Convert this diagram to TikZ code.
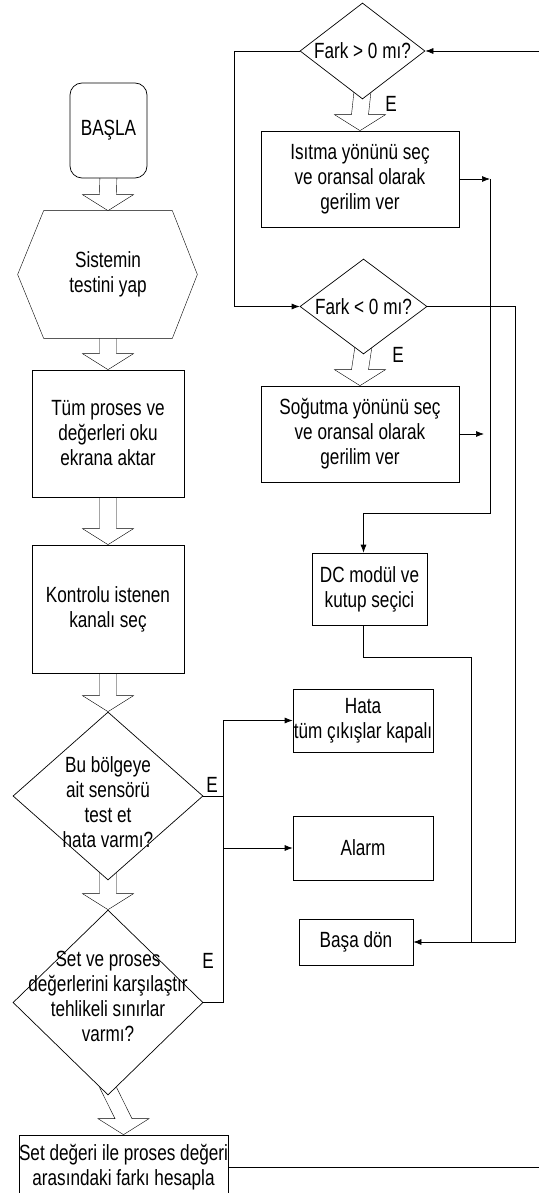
\documentclass[tikz,border=0pt]{standalone}
\usepackage{fontspec}
\setmainfont{Liberation Sans}[FakeStretch=0.78]
\usetikzlibrary{shapes.geometric,arrows.meta,calc,backgrounds}

\tikzset{
  box/.style={draw, fill=white, inner sep=0pt, align=center},
  decision/.style={draw, diamond, fill=white, inner sep=0pt},
  flow/.style={-{Latex[length=8pt,width=6pt]}},
}
% hollow block arrow from one node to the next
\newcommand{\hollowarrow}[2]{%
  \draw[fill=white] ($(#1)+(-8.5,-8)$) -- ($(#2)+(-8.5,-16)$) -- ($(#2)+(-25.5,-16)$) -- (#2)
    -- ($(#2)+(25.5,-16)$) -- ($(#2)+(8.5,-16)$) -- ($(#1)+(8.5,-8)$);}

\begin{document}
\begin{tikzpicture}[x=1pt, y=-1pt, line width=0.7pt, font=\fontsize{22}{25}\selectfont]
\useasboundingbox (0,0) rectangle (539,1193);

% left column
\node[box, rounded corners=12pt, minimum width=77pt, minimum height=95pt] (basla) at (108.5,130.5) {BAŞLA};
\node[align=center, minimum width=128pt, minimum height=127pt, inner sep=0pt] (test) at (108,274.5) {Sistemin\\testini yap};
\node[box, minimum width=152pt, minimum height=127pt] (oku) at (108,433.5) {Tüm proses ve\\değerleri oku\\ekrana aktar};
\node[box, minimum width=152pt, minimum height=128pt] (kanal) at (108,609) {Kontrolu istenen\\kanalı seç};
\node[decision, minimum width=190pt, minimum height=168pt] (sensor) at (108,796) {};
\node[align=center] (sensortxt) at (108,802) {Bu bölgeye\\ait sensörü\\test et\\hata varmı?};
\node[decision, minimum width=190pt, minimum height=185pt] (sinir) at (108,1002.5) {};
\node[align=center] (sinirtxt) at (108,996) {Set ve proses\\değerlerini karşılaştır\\tehlikeli sınırlar\\varmı?};
\node[box, minimum width=209pt, minimum height=64pt] (fark) at (123.5,1167) {Set değeri ile proses değeri\\arasındaki farkı hesapla};

% right column
\node[decision, minimum width=125pt, minimum height=96pt] (buyuk) at (362.5,51) {};
\node (buyuktxt) at (buyuk) {Fark > 0 mı?};
\node[box, minimum width=198pt, minimum height=96pt] (isitma) at (360,179) {Isıtma yönünü seç\\ve oransal olarak\\gerilim ver};
\node[decision, minimum width=127pt, minimum height=95pt] (kucuk) at (363.5,306.5) {};
\node (kucuktxt) at (kucuk) {Fark < 0 mı?};
\node[box, minimum width=198pt, minimum height=96pt] (sogutma) at (360,434) {Soğutma yönünü seç\\ve oransal olarak\\gerilim ver};
\node[box, minimum width=115pt, minimum height=72pt] (modul) at (369.5,589) {DC modül ve\\kutup seçici};
\node[box, minimum width=140pt, minimum height=63pt] (hata) at (363,720.5) {Hata\\tüm çıkışlar kapalı};
\node[box, minimum width=140pt, minimum height=64pt] (alarm) at (363,848) {Alarm};
\node[box, minimum width=114pt, minimum height=46pt] (basa) at (356,942) {Başa dön};

% E labels
\node (e1) at (212,785) {E};
\node (e2) at (208,961) {E};
\node (e3) at (391,104) {E};
\node (e4) at (398,355) {E};

\coordinate (ustgiris) at (539,51);
\coordinate (altcikis) at (539,1167);
\coordinate (dikey) at (490,179);
\coordinate (dikeyalt) at (490,513);
\coordinate (sogucu) at (484,434);
\coordinate (donus) at (515,942);
\coordinate (birlesme) at (471,942);
\coordinate (dal) at (223,796);
\coordinate (dalust) at (223,720.5);
\coordinate (dalorta) at (223,848);

% connectors
\draw[flow] (buyuk.west) -- ++(-65,0) |- (kucuk.west);
\draw[flow] (ustgiris) -- (buyuk.east);
\draw (fark.east) -- (altcikis);
\draw[flow] (isitma.east) -- (dikey);
\draw[flow] (dikey) -- (dikeyalt) -| ([xshift=-6pt]modul.north);
\draw[flow] (sogutma.east) -- (sogucu);
\draw[flow] (kucuk.east) -| (donus) -- (basa.east);
\draw ([xshift=-6pt]modul.south) -- ++(0,32) -| (birlesme);
\draw (sensor.east) -- (dal);
\draw[flow] (sinir.east) -| (dalust) -- (hata.west);
\draw[flow] (dalorta) -- (alarm.west);

\begin{scope}[on background layer]
\hollowarrow{basla.south}{test.north}
\hollowarrow{test.south}{oku.north}
\hollowarrow{oku.south}{kanal.north}
\hollowarrow{kanal.south}{sensor.north}
\hollowarrow{sensor.south}{sinir.north}
\hollowarrow{sinir.south}{fark.north}
\hollowarrow{buyuk.south}{isitma.north}
\hollowarrow{kucuk.south}{sogutma.north}
\draw[fill=white] (test.north west) -- (test.north east) -- ($(test.east)+(25,0)$) -- (test.south east)
  -- (test.south west) -- ($(test.west)+(-26,0)$) -- cycle;
\end{scope}
\end{tikzpicture}
\end{document}
